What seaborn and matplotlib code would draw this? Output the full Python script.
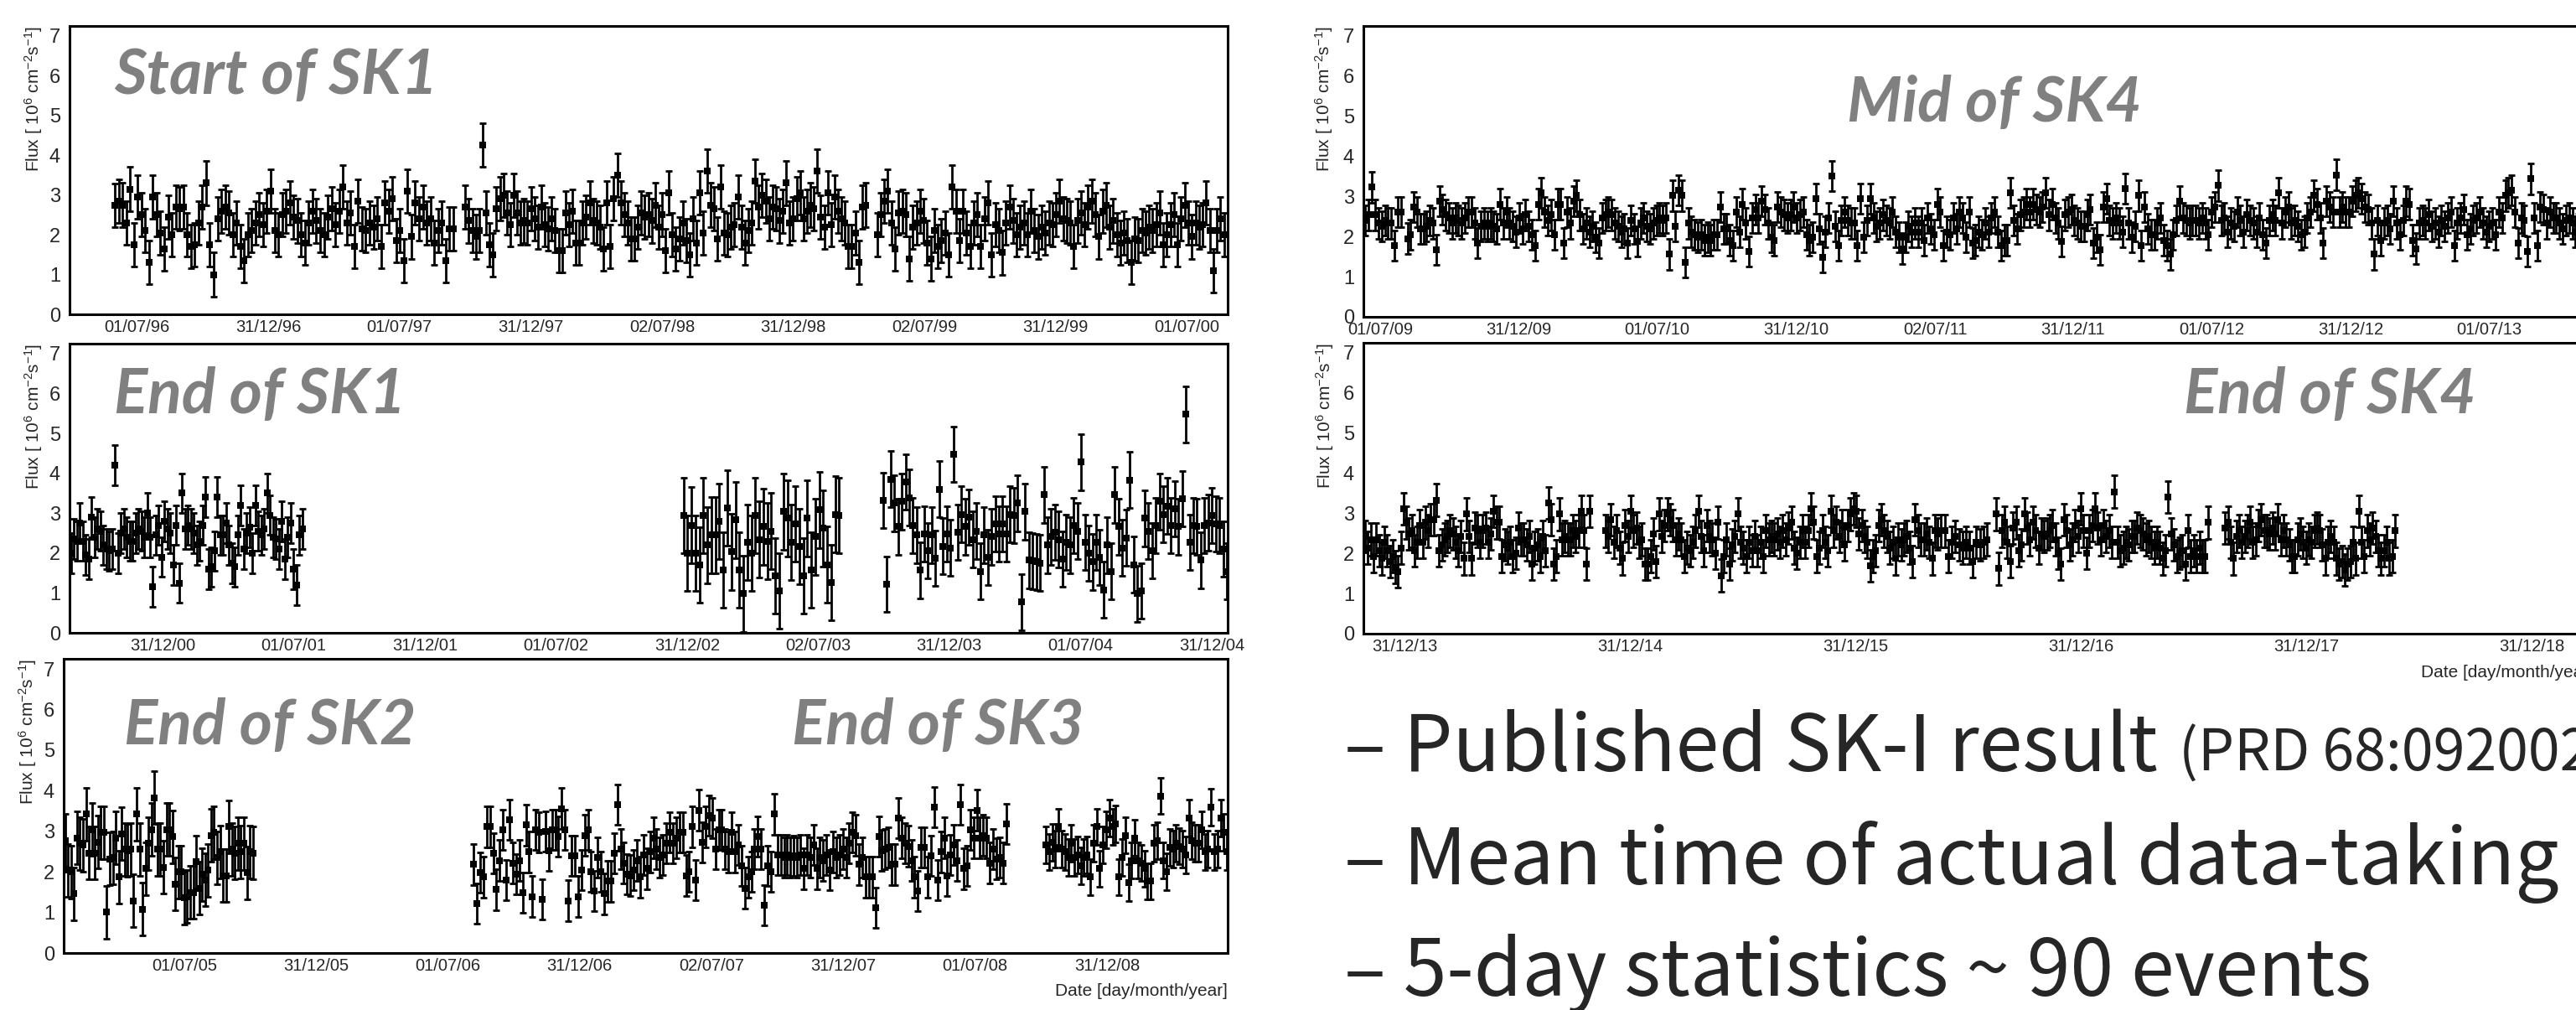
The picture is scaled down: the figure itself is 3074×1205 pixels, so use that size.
import numpy as np
import matplotlib
matplotlib.use("Agg")
import matplotlib.pyplot as plt
import matplotlib.dates as mdates
from matplotlib.ticker import FixedLocator, FixedFormatter, MultipleLocator
import seaborn as sns
from datetime import datetime

# ---- 5-day flux values (10^6 cm^-2 s^-1) ----
# panel 1: start of SK1
p1_a = [2.74, 2.85, 2.75, 2.3, 3.15, 1.75, 2.95, 2.5, 2.1, 1.3, 2.95, 2.5, 2.05, 1.65, 2.45, 2.0, 2.7, 2.65, 2.7,
        2.0, 1.7, 1.75, 2.3, 2.7, 3.3, 1.75, 1.0, 2.4, 2.6, 2.7, 2.55, 2.0, 2.3, 1.7, 1.35, 2.0, 2.1, 2.3, 2.5,
        2.25, 2.6, 3.1, 2.1, 2.0, 2.5, 2.6, 2.8, 2.45, 2.35, 2.0, 1.8, 2.3, 2.6, 2.35, 2.1, 2.0, 2.45, 2.65, 2.25,
        2.6, 3.2, 2.3, 2.55, 1.7, 2.85, 2.15, 2.1, 2.3, 2.2, 2.4, 1.7, 2.8, 2.6, 2.9, 1.85, 2.1, 1.35, 3.1, 1.95,
        2.8, 2.4, 2.7, 2.3, 2.4, 1.8, 2.1, 2.3, 1.35, 2.15, 2.15]
p1_b = [2.7, 2.35, 2.1, 1.95, 2.1, 4.25, 2.55, 1.75, 1.5, 2.65, 2.9, 3.0, 2.55, 2.25, 3.0, 2.55, 2.3, 2.35, 2.3, 2.65,
        2.4, 2.2, 2.7, 2.25, 2.15, 2.4, 2.1, 1.6, 1.6, 2.55, 2.25, 2.6, 1.8, 1.8, 2.3, 2.45, 2.8, 2.35, 2.3, 2.2,
        1.65, 2.8, 1.7, 2.9, 3.5, 2.8, 2.5, 2.3, 1.9, 1.9, 2.2, 2.55, 2.45, 2.5, 2.35, 2.75, 2.2, 2.5, 1.6, 3.05,
        2.0, 1.65, 1.9, 2.3, 1.85, 1.5, 2.4, 1.8, 3.05, 2.05, 3.6, 2.75, 2.65, 1.9, 3.2, 2.05, 2.0, 2.2, 2.25, 2.95,
        2.2, 1.8, 2.1, 2.3, 3.35, 2.7, 3.0, 2.85, 2.4, 2.7, 2.65, 2.35, 2.6, 3.3, 2.3, 2.4, 2.9, 3.05, 2.4, 2.6,
        2.75, 2.65, 3.6, 2.45, 2.2, 3.05, 2.25, 2.95, 2.6, 2.4, 2.3, 1.7, 1.7, 2.05, 1.3, 2.7, 2.75]
p1_c = [2.0, 2.5, 2.85, 3.1, 2.3, 1.65, 2.55, 2.6, 2.5, 1.4, 2.2, 2.3, 2.6, 2.35, 1.8, 1.4, 2.1, 1.7, 1.85, 2.05,
        1.5, 3.2, 2.6, 1.85, 2.6, 2.05, 1.7, 2.3, 2.5, 1.7, 2.4, 2.8, 1.5, 2.25, 2.1, 1.55, 2.3, 2.7, 2.35, 2.0,
        2.2, 2.3, 2.0, 2.6, 2.1, 1.95, 2.2, 2.05, 2.3, 2.25, 2.5, 2.85, 2.4, 2.35, 2.3, 1.7, 2.35, 2.55, 2.25, 2.7,
        2.85, 2.5, 1.95, 2.6, 2.75, 2.2, 2.35, 2.0, 1.8, 2.05, 1.85, 1.3, 1.9, 1.85, 2.1, 2.05, 2.2, 2.1, 2.25, 2.55,
        1.75, 2.0, 2.25, 2.5, 1.75, 2.4, 2.75, 2.3, 1.95, 2.3, 2.2, 2.25, 2.8, 2.1, 1.1, 2.1, 2.4, 2.0]

# panel 2: end of SK1, start of SK2
p2_a = [2.0, 2.35, 2.3, 2.75, 2.3, 1.95, 1.85, 2.9, 2.4, 2.6, 2.55, 2.2, 2.1, 2.05, 2.1, 4.2, 2.0, 2.5, 2.6, 2.4,
        2.3, 2.3, 2.5, 2.6, 2.55, 2.4, 3.0, 2.4, 1.15, 2.45, 2.7, 1.9, 2.8, 2.6, 2.5, 1.7, 2.7, 1.25, 3.5, 2.6,
        2.7, 2.6, 2.5, 2.2, 2.3, 2.7, 3.4, 1.6, 1.65, 2.05, 3.4, 2.45, 2.45, 2.75, 2.2, 1.75, 1.65, 2.45, 3.2, 2.1,
        2.5, 2.65, 2.0, 3.2, 2.55, 2.45, 2.6, 3.5, 2.95, 2.4, 2.35, 2.1, 2.8, 1.85, 2.4, 2.75, 1.6, 1.2, 2.45, 2.6]
p2_b = [2.94, 2.0, 2.7, 2.0, 1.7, 2.94, 2.2, 2.45, 2.45, 2.8, 1.57, 3.13, 2.03, 2.83, 1.57, 0.98, 2.27, 2.0, 2.94, 2.34,
        2.66, 2.3, 2.55, 1.43, 1.05, 3.04, 2.87, 2.27, 2.73, 2.17, 1.43, 2.87, 1.57, 2.41, 3.08, 2.62, 1.71, 1.26, 2.97, 2.94]
p2_c = [3.32, 1.22, 3.85, 3.25, 2.66, 3.29, 3.78, 3.39, 2.69, 2.45, 1.57, 2.48, 2.06, 2.45, 1.87, 3.6, 2.17, 2.48, 2.13, 4.48,
        2.52, 2.97, 2.66, 2.9, 2.34, 2.55, 1.54, 2.45, 1.89, 2.41, 2.73, 2.48, 2.73, 2.48, 2.97, 2.94, 3.25, 0.77, 3.04, 1.82,
        1.8, 1.78, 1.75, 3.46, 2.2, 2.41, 2.52, 2.34, 1.85, 2.27, 2.2, 2.69, 2.55, 4.28, 2.27, 2.0, 1.78, 2.27, 1.89, 1.08,
        2.2, 1.54, 3.46, 2.66, 2.13, 2.38, 3.83, 1.71, 0.98, 1.05, 2.87, 2.55, 2.06, 2.69, 3.29, 2.97, 3.18, 2.69, 3.11, 2.66,
        3.36, 5.48, 2.27, 2.69, 2.66, 1.82, 2.69, 2.76, 2.94, 2.73, 2.69, 2.1, 1.54]

# panel 3: end of SK2, SK3, start of SK4
p3_a = [2.77, 2.04, 2.0, 1.46, 2.84, 2.7, 2.66, 3.42, 2.46, 3.04, 2.46, 2.73, 2.97, 2.97, 1.01, 2.32, 2.35, 2.84, 1.87, 2.94,
        2.56, 2.53, 2.56, 1.29, 3.42, 2.56, 1.08, 2.08, 2.7, 3.04, 3.83, 2.56, 2.56, 2.11, 3.04, 3.04, 2.87, 1.7, 2.0, 2.0,
        1.36, 1.39, 1.49, 1.49, 2.25, 1.6, 1.94, 1.8, 2.04, 2.9, 2.97, 2.35, 2.49, 1.91, 1.91, 3.11, 2.56, 2.46, 2.7, 2.49,
        2.7, 1.98, 2.49, 2.46]
p3_b = [2.18, 1.22, 1.98, 1.87, 3.11, 3.11, 2.46, 1.56, 2.28, 3.04, 1.8, 3.28, 2.22, 1.94, 2.28, 1.49, 3.15, 2.49, 1.39, 3.04,
        2.97, 1.32, 3.0, 2.53, 3.04, 3.04, 2.87, 3.56, 3.04, 1.29, 2.39, 2.39, 1.39, 2.04, 2.9, 3.04, 2.0, 1.53, 2.35, 2.0,
        1.46, 1.77, 1.77, 2.46, 3.66, 2.56, 2.22, 1.94, 1.91, 2.04, 2.28, 1.87, 2.42, 2.08, 2.49, 2.84, 2.56, 2.35, 2.42,
        2.7, 2.97, 2.7, 2.84, 2.97, 2.97, 1.91, 2.0, 3.11, 1.8, 3.52, 2.73, 3.11, 3.39, 3.32, 2.56, 3.04, 3.04, 2.56, 2.49,
        2.97, 2.49, 2.66, 2.15, 1.6, 1.87, 2.0, 2.56, 2.87, 2.56, 1.18, 2.15, 2.0, 3.42, 2.42, 2.42, 2.35, 2.42, 2.35, 2.39,
        2.35, 2.42, 2.08, 2.42, 2.35, 2.66, 2.08, 2.35, 2.28, 2.42, 2.04, 2.49, 2.35, 2.42, 2.56, 2.35, 2.7, 2.97, 2.9, 2.18,
        2.35, 1.87, 1.87, 1.87, 1.11, 2.87, 2.53, 2.56, 2.6, 2.18, 2.18, 3.32, 2.84, 2.7, 2.63, 2.28, 1.87, 1.53, 2.6, 2.6,
        1.87, 2.39, 3.59, 1.8, 2.49, 2.84, 1.91, 2.42, 2.66, 2.28, 3.66, 2.08, 2.15, 3.04, 2.84, 3.52, 2.84, 2.9, 2.84, 2.22,
        2.56, 2.32, 2.35, 2.22, 3.18]
p3_c = [2.66, 2.49, 2.73, 2.56, 3.11, 2.56, 2.49, 2.35, 2.7, 2.35, 2.42, 2.15, 2.35, 2.42, 1.87, 2.7, 3.11, 2.08, 2.66, 3.04,
        3.32, 3.11, 3.18, 1.87, 2.35, 2.9, 1.73, 2.28, 2.84, 2.28, 2.22, 2.08, 1.77, 1.77, 2.7, 2.77, 3.87, 2.28, 2.0, 2.6,
        2.56, 2.7, 2.63, 2.56, 2.42, 3.32, 2.77, 2.7, 2.7, 3.04, 2.49, 2.56, 3.59, 2.49, 2.56, 3.32, 2.97, 2.49]

# panel 4: middle of SK4
p4_a = [2.4, 2.54, 3.23, 2.54, 2.33, 2.26, 2.4, 2.33, 2.33, 1.77, 2.61, 2.61]
p4_b = [1.95, 2.05, 2.74, 2.61, 2.19, 2.19, 2.26, 2.4, 2.33, 1.67, 2.88, 2.68, 2.54, 2.47, 2.33, 2.47, 2.4, 2.33, 2.47, 2.61,
        2.61, 2.33, 1.84, 2.26, 2.33, 2.26, 2.33, 2.26, 2.19, 2.81, 2.33, 2.61, 2.33, 2.26, 2.12, 2.47, 2.19, 2.54, 2.26, 2.05,
        1.77, 2.81, 3.09, 2.61, 2.4, 2.54, 2.05, 2.81, 2.81, 1.84, 2.61, 2.33, 2.88, 3.02, 2.54, 2.19, 2.33, 2.12, 2.26, 1.98,
        1.84, 2.47, 2.54, 2.61, 2.54, 2.33, 2.26, 2.12, 2.19, 1.84, 2.4, 2.19, 1.88, 2.33, 2.47, 2.26, 2.19, 2.33, 2.4, 2.47,
        2.4, 2.47, 1.56, 3.02, 2.26, 3.16, 3.02, 1.36, 2.33, 2.12, 2.05, 1.98, 2.05, 1.91, 1.98, 1.91, 2.05, 2.05, 2.74, 2.19,
        2.19, 1.91, 1.77, 2.61, 2.12, 2.81, 2.33, 1.63, 2.47, 2.68, 2.47, 2.88, 2.68, 2.33, 1.98, 1.91, 2.74, 2.61, 2.54, 2.47,
        2.54, 2.74, 2.47, 2.54, 2.61, 2.05, 1.91, 1.98, 2.95, 2.19, 1.49, 2.12, 2.47, 3.51, 2.26, 1.77, 2.4, 2.61, 2.4, 2.33,
        2.33, 1.77, 2.95, 1.98, 2.4, 2.95, 2.47, 2.26, 2.33, 2.54, 2.4, 2.33, 2.61, 2.12, 1.98, 1.7, 1.98, 2.26, 2.12, 2.33,
        2.12, 2.33, 1.91, 2.47, 2.19, 2.05, 2.81, 2.61, 1.77, 2.12,
        2.05, 2.47, 2.19, 2.61, 2.47, 1.98, 2.61, 1.84, 1.91, 2.12, 2.05, 2.33, 2.12, 2.47, 2.61, 2.12, 1.77, 1.91, 1.91, 3.09,
        2.4, 2.19, 2.54, 2.61, 2.81, 2.61, 2.81, 2.68, 2.61, 2.74, 3.09, 2.54, 2.81, 2.47, 2.33, 1.88, 2.54, 2.61, 2.68, 2.4,
        2.33, 2.26, 2.26, 2.54, 2.68, 1.84, 1.98, 1.67, 2.74, 2.95, 2.4, 2.33, 2.47, 2.33, 2.12, 3.2, 2.33, 1.98, 2.26, 3.02,
        1.77, 2.74, 2.19, 2.05, 2.05, 2.33, 2.47, 1.91, 1.77, 1.56, 2.05, 2.4, 2.88, 2.47, 2.4, 2.33, 2.4, 2.4, 2.33, 2.47,
        2.33, 2.05, 2.61, 2.74, 3.27, 2.4, 2.47, 2.12, 2.33, 2.26, 2.61, 2.4, 2.12, 2.54, 2.4, 2.33, 2.12, 2.47, 2.05, 1.84,
        2.4, 2.54, 2.4, 3.09, 2.33, 2.61, 2.74, 2.33, 2.4, 2.26, 2.05, 2.12, 2.47, 2.61, 3.02, 2.81, 2.47, 1.84, 2.88, 2.74,
        2.61, 3.54, 2.61, 2.74, 2.61, 2.61, 2.88, 3.02, 3.09, 2.95, 2.74, 2.68, 2.33, 1.56, 2.4, 1.91, 2.33, 2.4, 2.19, 2.88,
        2.33, 2.05, 2.4, 2.88, 2.81, 1.91, 1.7, 2.33, 2.4, 2.33, 2.54, 2.26, 2.33, 2.12, 2.4, 2.26, 2.47, 2.61, 1.77, 2.33,
        2.47, 2.68, 2.05, 2.19, 2.4, 2.47, 2.61, 2.33, 2.12, 2.26, 2.33, 2.05, 2.61, 2.47, 3.02, 3.09, 3.16, 2.61, 1.84, 2.47,
        2.4, 1.63, 3.44, 2.47, 1.77, 2.74, 2.68, 2.33, 2.61, 2.47, 2.47, 2.33, 2.19, 2.4, 2.47, 2.33, 2.12, 2.19]

# panel 5: end of SK4
p5_a = [2.42, 2.14, 2.35, 1.93, 2.35, 2.07, 1.87, 2.28, 2.07, 1.8, 1.93, 1.66, 1.55, 2.14, 3.12, 2.77, 2.49, 2.56, 2.07, 2.28,
        2.7, 2.28, 2.77, 2.56, 2.84, 2.84, 3.33, 2.07, 2.21, 2.35, 2.42, 2.56, 2.49, 2.28, 2.07, 2.42, 1.87, 2.98, 2.42, 1.87,
        2.63, 2.56, 2.28, 2.56, 2.63, 2.28, 2.49, 3.05, 2.77, 2.77, 1.93, 2.21, 2.14, 2.28, 1.93, 2.0, 2.63, 2.35, 2.35, 2.21,
        2.42, 1.73, 2.14, 2.21, 1.93, 2.42, 2.07, 3.26, 2.84, 1.73, 1.93, 2.98, 2.35, 2.42, 2.35, 2.35, 2.56, 2.42, 2.56, 3.05,
        2.56, 1.73, 3.05]
p5_b = [2.56, 2.42, 2.84, 2.28, 2.56, 2.14, 1.87, 2.7, 2.42, 3.05, 2.56, 2.63, 2.28, 2.35, 1.73, 1.73, 1.93, 2.49, 1.8, 2.98,
        2.42, 2.7, 2.98, 2.84, 2.7, 2.35, 2.49, 2.35, 1.93, 2.14, 2.07, 2.28, 2.56, 3.05, 2.42, 2.07, 2.7, 2.42, 2.35, 2.0,
        2.77, 1.45, 1.93, 2.35, 1.73, 2.21, 2.42, 2.98, 2.28, 2.14, 1.93, 2.28, 2.07, 2.42, 2.07, 2.28, 1.93, 2.56, 2.35, 2.42,
        2.35, 2.49, 2.28, 2.56, 2.35, 2.63, 2.77, 2.14, 2.0, 2.28, 2.56, 2.28, 2.56, 3.12, 2.77, 1.93, 2.14, 2.56, 2.28, 2.07,
        3.05, 2.56, 2.77, 2.42, 2.7, 2.21, 2.7, 2.98, 3.12, 3.05, 2.49, 2.7, 2.42, 2.28, 1.69, 1.93, 2.07, 2.7, 2.84, 2.56,
        2.42, 2.14, 2.28, 1.87, 2.35, 2.21, 2.35, 2.42, 2.14, 1.8, 2.84, 2.56, 2.35, 2.35, 2.49, 2.28, 1.87, 2.56, 2.49, 2.56]
p5_c = [2.56, 1.93, 2.28, 2.42, 2.21, 2.14, 2.28, 2.14, 1.8, 2.28, 2.21, 2.28, 2.35]
p5_d = [2.98, 1.62, 2.56, 2.77, 2.28, 1.8, 2.63, 2.77, 2.07, 2.21, 2.98, 2.63, 2.35, 2.77, 2.56, 2.14, 2.49, 2.42, 2.49, 2.56,
        2.7, 2.35, 2.0, 1.73, 2.84, 2.56, 2.21, 2.35, 2.7, 2.42, 3.12, 2.56, 2.0, 2.56, 2.7, 3.12, 2.63, 2.35, 2.7, 2.42,
        2.56, 2.28, 3.54, 2.28, 2.07, 2.14, 2.28, 2.21, 2.42, 2.42, 2.63, 2.56, 2.49, 2.35, 2.42, 2.28, 2.14, 2.28, 2.14, 1.87,
        2.07, 3.4, 2.49, 2.21, 1.93, 2.0, 2.07, 1.73, 2.56, 1.93, 2.07, 1.93, 2.14, 1.93, 1.93, 2.77]
p5_e = [2.63, 2.77, 2.28, 1.87, 2.42, 2.56, 2.28, 2.42, 2.56, 2.77, 2.28, 2.35, 2.7, 2.84, 2.56, 2.56, 2.49, 2.63, 2.49, 2.84,
        2.35, 2.56, 2.35, 2.21, 1.93, 1.93, 2.35, 2.49, 2.28, 2.14, 2.35, 2.28, 2.56, 2.63, 2.56, 2.21, 1.87, 2.28, 2.42, 2.28,
        1.87, 1.73, 1.8, 1.59, 1.73, 1.8, 2.28, 1.87, 3.05, 2.28, 1.93, 2.56, 2.35, 2.63, 2.42, 2.07, 1.87, 2.07, 2.28, 1.87,
        1.93, 2.56]

# first/last bin date of each run of data, and typical error bar (half length)
p1_spans = [("1996-05-31", "1997-09-14"), ("1997-10-01", "1999-04-11"), ("1999-04-27", "2000-08-22")]
p2_spans = [("2000-08-25", "2001-07-13"), ("2002-12-26", "2003-07-31"), ("2003-09-30", "2005-01-21")]
p3_spans = [("2005-01-17", "2005-10-04"), ("2006-08-06", "2008-08-13"), ("2008-10-07", "2009-06-15")]
p4_spans = [("2009-06-11", "2009-07-29"), ("2009-08-06", "2013-10-27")]
p5_spans = [("2013-10-28", "2014-10-26"), ("2014-11-21", "2016-05-17"), ("2016-05-24", "2016-07-31"),
            ("2016-08-15", "2017-07-24"), ("2017-08-21", "2018-05-23")]
p1_err = [0.55, 0.55, 0.55]
p2_err = [0.5, 0.95, 0.7]
p3_err = [0.65, 0.5, 0.45]
p4_err = [0.38, 0.38]
p5_err = [0.4, 0.4, 0.4, 0.4, 0.4]

p1_ticks = ["01/07/96", "31/12/96", "01/07/97", "31/12/97", "02/07/98", "31/12/98", "02/07/99", "31/12/99", "01/07/00"]
p2_ticks = ["31/12/00", "01/07/01", "31/12/01", "01/07/02", "31/12/02", "02/07/03", "31/12/03", "01/07/04", "31/12/04"]
p3_ticks = ["01/07/05", "31/12/05", "01/07/06", "31/12/06", "02/07/07", "31/12/07", "01/07/08", "31/12/08"]
p4_ticks = ["01/07/09", "31/12/09", "01/07/10", "31/12/10", "02/07/11", "31/12/11", "01/07/12", "31/12/12", "01/07/13"]
p5_ticks = ["31/12/13", "31/12/14", "31/12/15", "31/12/16", "31/12/17", "31/12/18"]

p1_xlim = ("1996-03-29", "2000-08-27")
p2_xlim = ("2000-08-23", "2005-01-22")
p3_xlim = ("2005-01-15", "2009-06-16")
p4_xlim = ("2009-06-09", "2013-12-31")
p5_xlim = ("2013-10-25", "2019-04-10")

labels = ["Start of SK1", "End of SK1", "End of SK2", "End of SK3", "Mid of SK4", "End of SK4"]
bullets = ["\u2013 Published SK-I result", "\u2013 Mean time of actual data-taking", "\u2013 5-day statistics ~ 90 events"]
ref_note = "(PRD 68:092002)"
ylab = "Flux [ 10$^{6}$ cm$^{-2}$s$^{-1}$]"
xlab = "Date [day/month/year]"

W, H = 3074, 1205

sns.set_style("white")
plt.rcParams['font.family'] = ['Liberation Sans', 'DejaVu Sans']
plt.rcParams['mathtext.fontset'] = 'custom'
plt.rcParams['mathtext.rm'] = 'Liberation Sans'
plt.rcParams['mathtext.it'] = 'Liberation Sans:italic'


def dnum(s):
    return mdates.date2num(datetime.strptime(s, "%Y-%m-%d"))


def draw_panel(ax, series, spans, errs, xlim, ticks, nminor):
    for vals, (a, b), err in zip(series, spans, errs):
        x = np.linspace(dnum(a), dnum(b), len(vals))
        ax.errorbar(x, vals, yerr=err, fmt='none', ecolor='black',
                    elinewidth=2.0, capsize=2.7, capthick=2.0)
        sns.scatterplot(x=x, y=vals, marker='s', s=30, color='black',
                        linewidth=0, ax=ax, legend=False)
    ax.set_xlim(dnum(xlim[0]), dnum(xlim[1]))
    ax.set_ylim(0, 7.25)
    pos = [mdates.date2num(datetime.strptime(t, "%d/%m/%y")) for t in ticks]
    ax.xaxis.set_major_locator(FixedLocator(pos))
    ax.xaxis.set_major_formatter(FixedFormatter(ticks))
    step = (pos[-1] - pos[0]) / (len(pos) - 1) / nminor
    ax.xaxis.set_minor_locator(MultipleLocator(step, offset=pos[0]))
    ax.yaxis.set_major_locator(MultipleLocator(1))
    ax.yaxis.set_minor_locator(MultipleLocator(0.2))
    ax.tick_params(axis='y', which='major', direction='in', length=26, width=2,
                   labelsize=17, pad=8, right=False)
    ax.tick_params(axis='y', which='minor', direction='in', length=13, width=2, right=False)
    ax.tick_params(axis='x', which='major', direction='in', length=8, width=1.8,
                   labelsize=14.5, pad=4, top=False)
    ax.tick_params(axis='x', which='minor', direction='in', length=5, width=1.8, top=False)
    for sp in ax.spines.values():
        sp.set_linewidth(2.2)
        sp.set_color('black')
    ax.set_xlabel("")
    ax.set_ylabel("")
    ax.text(-0.031, 1.0, ylab, transform=ax.transAxes, rotation=90,
            ha='center', va='top', fontsize=15)


fig = plt.figure(figsize=(W / 100, H / 100), dpi=100)


def add_axes(l, t, r, b):
    return fig.add_axes([l / W, 1 - b / H, (r - l) / W, (b - t) / H])


ax1 = add_axes(83, 31, 1465, 375)
ax2 = add_axes(83, 410, 1465, 755)
ax3 = add_axes(76, 786, 1465, 1137)
ax4 = add_axes(1627, 31, 3136, 378)
ax5 = add_axes(1627, 409, 3095, 756)

draw_panel(ax1, [p1_a, p1_b, p1_c], p1_spans, p1_err, p1_xlim, p1_ticks, 3)
draw_panel(ax2, [p2_a, p2_b, p2_c], p2_spans, p2_err, p2_xlim, p2_ticks, 3)
draw_panel(ax3, [p3_a, p3_b, p3_c], p3_spans, p3_err, p3_xlim, p3_ticks, 3)
draw_panel(ax4, [p4_a, p4_b], p4_spans, p4_err, p4_xlim, p4_ticks, 3)
draw_panel(ax5, [p5_a, p5_b, p5_c, p5_d, p5_e], p5_spans, p5_err, p5_xlim, p5_ticks, 4)

ax3.text(1.0, -0.145, xlab, transform=ax3.transAxes, ha='right', va='baseline', fontsize=15)
ax5.text(1.0, -0.15, xlab, transform=ax5.transAxes, ha='right', va='baseline', fontsize=15)

# grey stage labels (pixel anchors: left, baseline)
label_pos = [(136, 112), (136, 493), (148, 888), (945, 888), (2204, 145), (2606, 493)]
for txt, (px, py) in zip(labels, label_pos):
    fig.text(px / W, 1 - py / H, txt, color='#808080', fontsize=54,
             fontweight='bold', fontstyle='italic', family=['Lato', 'DejaVu Sans'],
             ha='left', va='baseline')

# bullet lines at lower right
cjk = ['Noto Sans CJK KR', 'DejaVu Sans']
for txt, py in zip(bullets, [920, 1055, 1188]):
    fig.text(1604 / W, 1 - py / H, txt, fontsize=67, family=cjk, ha='left', va='baseline')
fig.text(2600 / W, 1 - 920 / H, ref_note, fontsize=49, family=cjk, ha='left', va='baseline')

fig.savefig("out.png", dpi=100, facecolor='white')
